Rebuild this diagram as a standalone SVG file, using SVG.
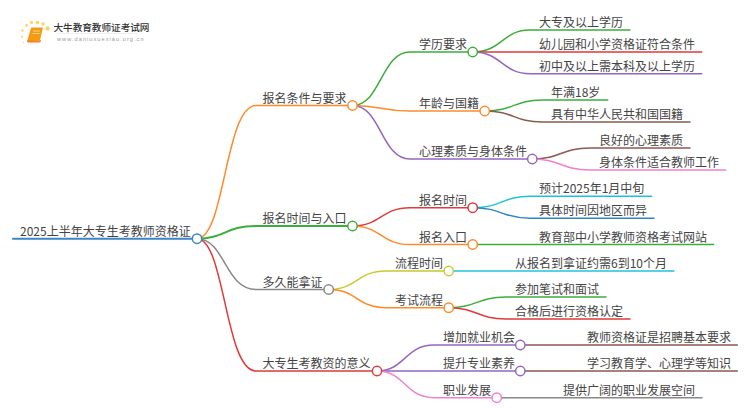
<svg xmlns="http://www.w3.org/2000/svg" width="750" height="410" viewBox="0 0 750 410">
<style>
text{font-family:"Noto Sans CJK SC","Liberation Sans",sans-serif;font-size:12px;fill:#444}
.c{fill:none;stroke-width:1.5;stroke-linecap:round}
.n{fill:#fff;stroke-width:1.5}
.lt{font-size:9.6px;fill:#333;font-weight:500}
.lu{font-family:"Liberation Sans",sans-serif;font-size:5.6px;letter-spacing:1.05px;fill:#999}
.d{fill:#fcd36d}
</style>
<rect width="750" height="410" fill="#fff"/>
<g id="logo">
<circle class="d" cx="47.500" cy="28.500" r="2.200"/><circle class="d" cx="43" cy="24" r="1.800"/><circle class="d" cx="37.500" cy="22.500" r="1.800"/><circle class="d" cx="31.500" cy="22.500" r="1.700"/><circle class="d" cx="26.500" cy="25.500" r="1.400"/><circle class="d" cx="22.500" cy="30.500" r="1.200"/><circle class="d" cx="22" cy="36.500" r="1"/><circle class="d" cx="23.500" cy="42.500" r="0.800"/>
<path d="M31 28q0-.5 1-.5h10q1 0 .800 1L40 40q-.3 1.500-1.500 1.500h-10q-1.500 0-1-1.500z" fill="#f59a12"/><path d="M27 40.500q-.5 2 1.500 2H39q1.500 0 1.800-1.500l.3-1.500-1.100 1q-.5.800-1.500.800z" fill="#f47c1c"/><path d="M33 31h7M32.500 33.500h7" stroke="#fde3a5" stroke-width="0.800"/>
<rect x="58" y="33" width="80" height="0.700" fill="#e8e8e8"/>
<text class="lt" x="53.500" y="30.500">大牛教育教师证考试网</text>
<text class="lu" x="57" y="41">www.daniuxuexiao.org.cn</text>
</g>
<g id="connectors">
<path class="c" style="stroke-width:2" stroke="#3b86c4" d="M13 238.700H197"/>
<path class="c" stroke="#ff8a27" d="M197 238.700C225 238.700 225 105.500 256 105.500H352.500"/>
<path class="c" style="stroke-width:2" stroke="#3cae3c" d="M197 238.700C225 238.700 225 226 256 226H352.500"/>
<path class="c" stroke="#888" d="M197 238.700C225 238.700 225 289.500 256 289.500H328.700"/>
<path class="c" stroke="#e03a3a" d="M197 238.700C225 238.700 225 371 256 371H377"/>
<path class="c" stroke="#3cae3c" d="M352.500 105.500C381 105.500 381 52 410 52H472.700"/>
<path class="c" stroke="#ff8a27" d="M352.500 105.500C381 105.500 381 111 410 111H484.700"/>
<path class="c" stroke="#9467bd" d="M352.500 105.500C381 105.500 381 159 410 159H532.300"/>
<path class="c" stroke="#e03a3a" d="M352.500 226C381 226 381 207.700 410 207.700H472.700"/>
<path class="c" stroke="#ff8a27" d="M352.500 226C381 226 381 244.500 410 244.500H472.700"/>
<path class="c" stroke="#c9c832" d="M328.700 289.500C357 289.500 357 271 386 271H448.700"/>
<path class="c" stroke="#ff8a27" d="M328.700 289.500C357 289.500 357 307.700 386 307.700H448.700"/>
<path class="c" stroke="#9467bd" d="M377 371C405 371 405 345 434 345H520.300"/>
<path class="c" stroke="#9467bd" d="M377 371C405 371 405 371 434 371H520.300"/>
<path class="c" stroke="#ee82cf" d="M377 371C405 371 405 397.700 434 397.700H496.700"/>
<path class="c" stroke="#3cae3c" d="M472.700 52C502 52 502 30 530 30H630"/>
<path class="c" stroke="#e03a3a" d="M472.700 52H701.700"/>
<path class="c" stroke="#9467bd" d="M472.700 52C502 52 502 73.700 530 73.700H701.700"/>
<path class="c" stroke="#3cae3c" d="M484.700 111C514 111 514 100 542 100H607.700"/>
<path class="c" stroke="#8c5a4f" d="M484.700 111C514 111 514 122 542 122H690"/>
<path class="c" stroke="#8c5a4f" d="M532.300 159C561 159 561 148 590 148H690"/>
<path class="c" stroke="#ee82cf" d="M532.300 159C561 159 561 170 590 170H725.700"/>
<path class="c" stroke="#1fc3d8" d="M472.700 207.700C502 207.700 502 196.300 530 196.300H651.700"/>
<path class="c" stroke="#2c86c4" d="M472.700 207.700C502 207.700 502 218.300 530 218.300H654"/>
<path class="c" stroke="#3cae3c" d="M472.700 244.500H713.700"/>
<path class="c" stroke="#1fc3d8" d="M448.700 271H674"/>
<path class="c" stroke="#3cae3c" d="M448.700 307.700C477 307.700 477 297 506 297H606"/>
<path class="c" stroke="#e03a3a" d="M448.700 307.700C477 307.700 477 319 506 319H630"/>
<path class="c" stroke="#8c5a4f" d="M520.300 345H737.300"/>
<path class="c" stroke="#8c5a4f" d="M520.300 371H737.300"/>
<path class="c" stroke="#888" d="M496.700 397.700H702"/>
</g>
<g id="root"><circle class="n" cx="197" cy="238.700" r="4.700" stroke="#3b86c4"/><text x="20" y="236">2025上半年大专生考教师资格证</text></g>
<g id="n1"><circle class="n" cx="352.500" cy="105.500" r="4.700" stroke="#ff8a27"/><text x="262.500" y="102.500">报名条件与要求</text></g>
<g id="n2"><circle class="n" cx="352.500" cy="226" r="4.700" stroke="#3cae3c"/><text x="262.500" y="223">报名时间与入口</text></g>
<g id="n3"><circle class="n" cx="328.700" cy="289.500" r="4.700" stroke="#888"/><text x="262.500" y="286.500">多久能拿证</text></g>
<g id="n4"><circle class="n" cx="377" cy="371" r="4.700" stroke="#e03a3a"/><text x="262.500" y="368">大专生考教资的意义</text></g>
<g id="n11"><circle class="n" cx="472.700" cy="52" r="4.700" stroke="#3cae3c"/><text x="419" y="49">学历要求</text></g>
<g id="n12"><circle class="n" cx="484.700" cy="111" r="4.700" stroke="#ff8a27"/><text x="419" y="108">年龄与国籍</text></g>
<g id="n13"><circle class="n" cx="532.300" cy="159" r="4.700" stroke="#9467bd"/><text x="419" y="156">心理素质与身体条件</text></g>
<g id="n21"><circle class="n" cx="472.700" cy="207.700" r="4.700" stroke="#e03a3a"/><text x="419" y="204.700">报名时间</text></g>
<g id="n22"><circle class="n" cx="472.700" cy="244.500" r="4.700" stroke="#ff8a27"/><text x="419" y="241.500">报名入口</text></g>
<g id="n31"><circle class="n" cx="448.700" cy="271" r="4.700" stroke="#c9c832"/><text x="395" y="268">流程时间</text></g>
<g id="n32"><circle class="n" cx="448.700" cy="307.700" r="4.700" stroke="#ff8a27"/><text x="395" y="304.700">考试流程</text></g>
<g id="n41"><circle class="n" cx="520.300" cy="345" r="4.700" stroke="#9467bd"/><text x="443" y="342">增加就业机会</text></g>
<g id="n42"><circle class="n" cx="520.300" cy="371" r="4.700" stroke="#9467bd"/><text x="443" y="368">提升专业素养</text></g>
<g id="n43"><circle class="n" cx="496.700" cy="397.700" r="4.700" stroke="#ee82cf"/><text x="443" y="394.700">职业发展</text></g>
<g id="leaves">
<text x="539" y="27">大专及以上学历</text>
<text x="539" y="49">幼儿园和小学资格证符合条件</text>
<text x="539" y="70.700">初中及以上需本科及以上学历</text>
<text x="551" y="97">年满18岁</text>
<text x="551" y="119">具有中华人民共和国国籍</text>
<text x="599" y="145">良好的心理素质</text>
<text x="599" y="167">身体条件适合教师工作</text>
<text x="539" y="193.300">预计2025年1月中旬</text>
<text x="539" y="215.300">具体时间因地区而异</text>
<text x="539" y="241.700">教育部中小学教师资格考试网站</text>
<text x="515" y="268">从报名到拿证约需6到10个月</text>
<text x="515" y="294">参加笔试和面试</text>
<text x="515" y="316">合格后进行资格认定</text>
<text x="587" y="342">教师资格证是招聘基本要求</text>
<text x="587" y="368">学习教育学、心理学等知识</text>
<text x="563" y="394.700">提供广阔的职业发展空间</text>
</g>
</svg>
